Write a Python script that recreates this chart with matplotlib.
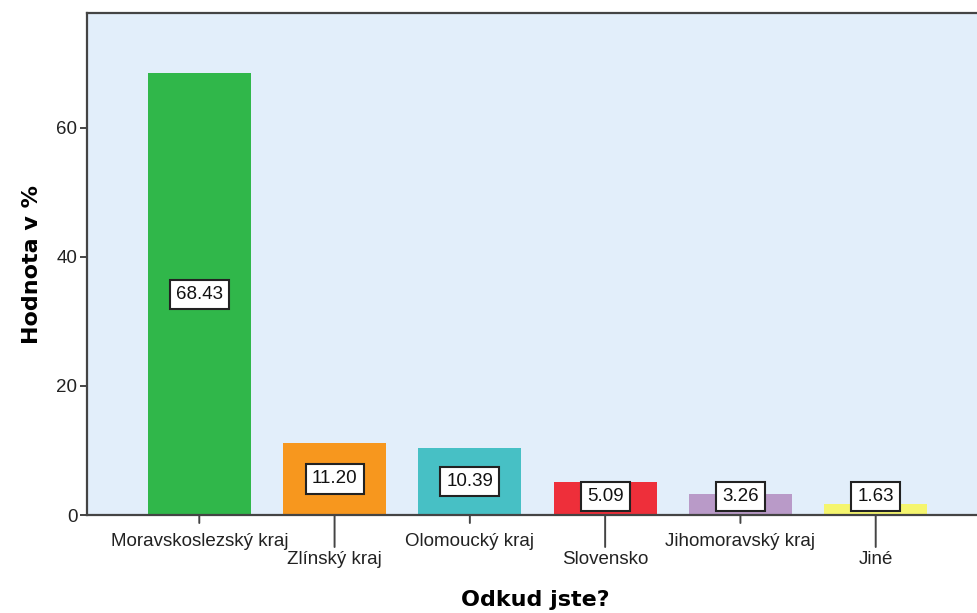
import matplotlib
matplotlib.use("Agg")
import matplotlib.pyplot as plt

categories = ["Moravskoslezský kraj", "Zlínský kraj", "Olomoucký kraj",
              "Slovensko", "Jihomoravský kraj", "Jiné"]
values = [68.43, 11.20, 10.39, 5.09, 3.26, 1.63]
colors = ["#30B74A", "#F7971E", "#47C0C5", "#EE2F3A", "#B99AC8", "#F5F56E"]
yticks = [0, 20, 40, 60]

plt.rcParams["font.family"] = ["Liberation Sans", "DejaVu Sans"]

fig = plt.figure(figsize=(9.77, 6.13), dpi=100)
ax = fig.add_axes([87 / 977, 98 / 613, 901 / 977, 502 / 613])
ax.set_facecolor("#E2EEFA")

x = list(range(len(categories)))
ax.bar(x, values, width=0.76, color=colors, zorder=2)

ax.set_xlim(-0.83, len(categories) - 1 + 0.83)
ax.set_ylim(0, 77.8)
ax.set_yticks(yticks)
ax.set_yticklabels([str(t) for t in yticks])

ax.spines["right"].set_visible(False)
for side in ("left", "top", "bottom"):
    ax.spines[side].set_color("#444444")
    ax.spines[side].set_linewidth(1.6)

ax.tick_params(axis="y", length=5, width=1.4, color="#444444",
               labelsize=13.5, labelcolor="#222222", pad=2)
ax.set_xticks(x)
ax.set_xticklabels([])
ax.tick_params(axis="x", length=0)

# staggered category labels with short / long ticks
for i, name in enumerate(categories):
    long_tick = i % 2 == 1
    tick_len = 32 if long_tick else 8
    label_off = 45 if long_tick else 26
    ax.annotate("", xy=(i, 0), xycoords="data",
                xytext=(0, -tick_len), textcoords="offset pixels",
                arrowprops=dict(arrowstyle="-", color="#444444", lw=1.4,
                                shrinkA=0, shrinkB=0),
                annotation_clip=False)
    ax.annotate(name, xy=(i, 0), xycoords="data",
                xytext=(0, -label_off), textcoords="offset pixels",
                ha="center", va="center", fontsize=13.5, color="#222222",
                annotation_clip=False)

# value labels in boxes
for i, v in enumerate(values):
    ypos = max(v / 2, 2.9)
    ax.text(i, ypos, f"{v:.2f}", ha="center", va="center", fontsize=13.5,
            color="#111111", zorder=4,
            bbox=dict(boxstyle="square,pad=0.33", facecolor="white",
                      edgecolor="#222222", linewidth=1.5))

ax.set_ylabel("Hodnota v %", fontsize=16, fontweight="bold",
              family="DejaVu Sans", labelpad=10)
fig.text(535 / 977, 1 - 600 / 613, "Odkud jste?", ha="center", va="center",
         fontsize=16, fontweight="bold", family="DejaVu Sans")

fig.savefig("out.png", dpi=100)
